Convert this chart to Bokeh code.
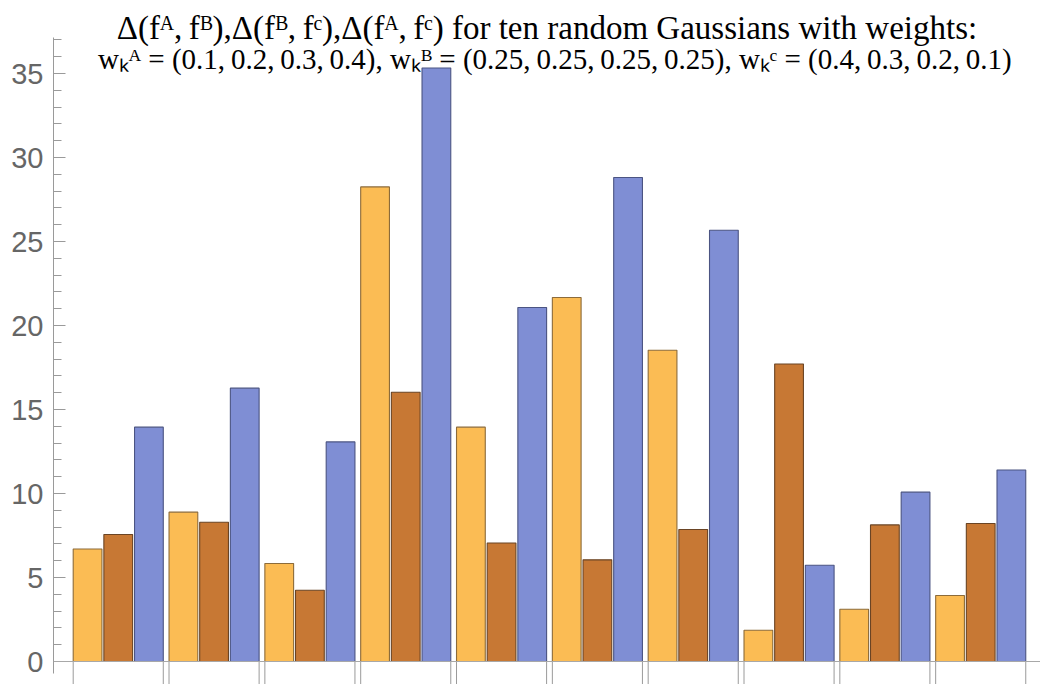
from bokeh.plotting import figure
from bokeh.models import ColumnDataSource, FixedTicker, Range1d, Span
from bokeh.core.properties import value
from bokeh.embed import file_html
from bokeh.resources import INLINE

# ---- data ----
groups = list(range(10))
delta_AB = [6.70, 8.89, 5.83, 28.25, 13.95, 21.67, 18.53, 1.86, 3.11, 3.93]
delta_BC = [7.56, 8.29, 4.24, 16.03, 7.05, 6.05, 7.86, 17.71, 8.13, 8.21]
delta_AC = [13.95, 16.27, 13.07, 35.33, 21.07, 28.81, 25.67, 5.73, 10.08, 11.40]
y_ticks = [0, 5, 10, 15, 20, 25, 30, 35]
title_line1 = "Δ(fᴬ,\u2009fᴮ),Δ(fᴮ,\u2009fᶜ),Δ(fᴬ,\u2009fᶜ) for ten random Gaussians with weights:"
title_line2 = ("wₖᴬ = (0.1,\u20090.2,\u20090.3,\u20090.4),  wₖᴮ = (0.25,\u20090.25,\u20090.25,\u20090.25),  "
               "wₖᶜ = (0.4,\u20090.3,\u20090.2,\u20090.1)")

# ---- style / layout ----
fills = ["#FBBC54", "#C77834", "#7F8ED4"]
edges = ["#8C6B3A", "#6A4424", "#4B5482"]
bar_w = 0.30
step = 0.32
group_w = 2 * step + bar_w
ppu = 16.8          # pixels per y unit
x0_px = 72.7        # pixel position of first group's left edge
ppx = 95.83         # pixels per group

def xd(px):
    return (px - x0_px) / ppx

def yd(py):
    return (661 - py) / ppu

p = figure(width=1040, height=684, output_backend="svg", toolbar_location=None,
           x_range=Range1d(xd(53), xd(1040)), y_range=Range1d(yd(684), yd(0)),
           min_border_left=53, min_border_right=0, min_border_top=0, min_border_bottom=0)
p.outline_line_color = None
p.grid.visible = False
p.xaxis.visible = False

# x axis line and group-edge ticks
p.add_layout(Span(location=0, dimension="width", line_color="#a8a8a8", line_width=1))
xt = []
for g in groups:
    xt += [g, g + group_w]
p.segment(x0=xt, y0=[0] * len(xt), x1=xt, y1=[yd(690)] * len(xt),
          line_color="#9a9a9a", line_width=1)

for j, vals in enumerate([delta_AB, delta_BC, delta_AC]):
    src = ColumnDataSource(dict(x=[g + j * step + bar_w / 2 for g in groups], top=vals))
    p.vbar(x="x", top="top", bottom=0, width=bar_w, source=src,
           fill_color=fills[j], line_color=edges[j], line_width=1.1)

# y axis
ya = p.yaxis[0]
ya.ticker = FixedTicker(ticks=y_ticks, minor_ticks=[v for v in range(0, 38) if v % 5 != 0])
ya.bounds = (yd(673), yd(37))
ya.axis_line_color = "#9a9a9a"
ya.major_tick_line_color = "#9a9a9a"
ya.minor_tick_line_color = "#9a9a9a"
ya.major_tick_in = 12
ya.major_tick_out = 0
ya.minor_tick_in = 8
ya.minor_tick_out = 0
ya.major_label_standoff = 10
ya.major_label_text_font = "Liberation Sans"
ya.major_label_text_font_size = "29px"
ya.major_label_text_color = "#666666"

# title inside the plot area
p.text(x=[xd(546.5)], y=[yd(27)], text=[title_line1], text_align="center",
       text_baseline="alphabetic", text_font=value("Liberation Serif"),
       text_font_size="33px", text_color="black")
p.text(x=[xd(561.5)], y=[yd(58)], text=[title_line2], text_align="center",
       text_baseline="alphabetic", text_font=value("Liberation Serif"),
       text_font_size="29px", text_color="black")

open("out.html", "w").write(file_html(p, INLINE))
